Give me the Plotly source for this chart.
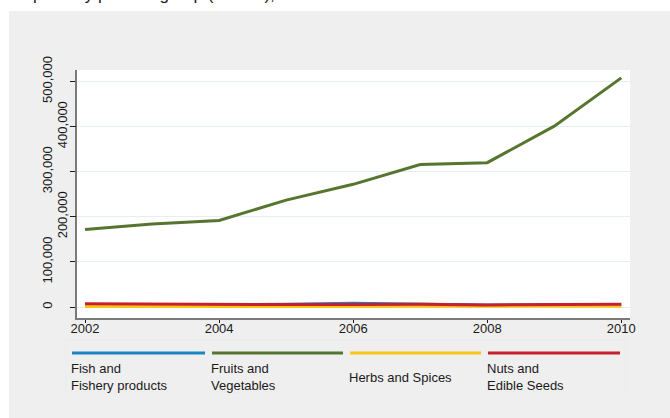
import plotly.graph_objects as go

years = [2002, 2003, 2004, 2005, 2006, 2007, 2008, 2009, 2010]
fish = [4000, 4500, 4000, 6000, 8500, 6000, 4500, 5000, 5000]
fruits = [172000, 184000, 192000, 237000, 272000, 316000, 320000, 401000, 508000]
herbs = [1000, 1200, 1000, 1300, 1500, 1400, 1200, 1500, 1600]
nuts = [7000, 6500, 4500, 5500, 5500, 6000, 4500, 6000, 6000]

series_names = ["Fish and<br>Fishery products", "Fruits and<br>Vegetables",
                "Herbs and Spices", "Nuts and<br>Edible Seeds"]
series_vals = [fish, fruits, herbs, nuts]
colors = ["#1a85c0", "#56762f", "#f7c616", "#c8202f"]

y_ticks_outer = [0, 100000, 300000, 500000]   # labels in the outer column
y_ticks_inner = [200000, 400000]              # labels staggered closer to the axis
y_ticks = sorted(y_ticks_outer + y_ticks_inner)
x_ticks = [2002, 2004, 2006, 2008, 2010]

FONT = "Liberation Sans, Arial, Helvetica, sans-serif"

# plot area in pixels
W, H = 670, 418
L, R, T, B = 77, 630, 70, 318
pw, ph = R - L, B - T
Y_RANGE = [-24400, 525500]

def px(x):
    return (x - L) / pw

def py(y):
    return (B - y) / ph

fig = go.Figure()
for i, (name, vals, c) in enumerate(zip(series_names, series_vals, colors)):
    fig.add_trace(go.Scatter(x=years, y=vals, mode="lines", name=name,
                             yaxis="y2" if i == 3 else "y",
                             line=dict(color=c, width=3), showlegend=False))

shapes = [
    dict(type="rect", xref="paper", yref="paper", x0=px(9), x1=px(680),
         y0=py(430), y1=py(11), fillcolor="#efefef", line=dict(width=0), layer="below"),
    dict(type="rect", xref="paper", yref="paper", x0=0, x1=1, y0=0, y1=1,
         fillcolor="white", line=dict(width=0), layer="below"),
    dict(type="rect", xref="paper", yref="paper", x0=px(66), x1=px(626),
         y0=py(392), y1=py(340), fillcolor="rgba(0,0,0,0)",
         line=dict(color="#e9eded", width=1), layer="below"),
]
annotations = []
# legend (drawn manually to reproduce long key lines)
leg_x = [(72, 205), (212, 343), (350, 481), (488, 620)]
for (x0, x1), name, c in zip(leg_x, series_names, colors):
    shapes.append(dict(type="line", xref="paper", yref="paper", x0=px(x0), x1=px(x1),
                       y0=py(353), y1=py(353), line=dict(color=c, width=3)))
    annotations.append(dict(xref="paper", yref="paper", x=px(x0 - 3), y=py(377),
                            xanchor="left", yanchor="middle", align="left",
                            text=name, showarrow=False,
                            font=dict(family=FONT, size=13, color="#1a1a1a")))
# partially visible title (cut off at the top edge, as in the reference)
annotations.append(dict(xref="paper", yref="paper", x=px(12), y=py(-6),
                        xanchor="left", yanchor="middle",
                        text="Imports by product group (tonnes), 2002–2010",
                        showarrow=False, font=dict(family=FONT, size=17, color="#1a1a1a")))

fig.update_layout(
    width=W, height=H,
    margin=dict(l=L, r=W - R, t=T, b=H - B, pad=0),
    paper_bgcolor="white", plot_bgcolor="white",
    shapes=shapes, annotations=annotations,
    font=dict(family=FONT, size=13, color="#1a1a1a"),
    xaxis=dict(range=[2001.88, 2010.13], tickvals=x_ticks, ticks="outside", ticklen=3,
               tickcolor="#1a1a1a", showgrid=False, zeroline=False, automargin=False,
               ticklabelstandoff=-6,
               showline=True, linecolor="#7a7a7a", linewidth=2,
               tickfont=dict(size=13)),
    yaxis=dict(range=Y_RANGE, tickvals=y_ticks,
               ticktext=[f"{v:,}" if v in y_ticks_outer else "" for v in y_ticks],
               ticks="outside", ticklen=5, tickcolor="#1a1a1a", tickangle=-90,
               ticklabelstandoff=13, automargin=False,
               showgrid=True, gridcolor="#e6eeee", gridwidth=1, zeroline=False,
               showline=True, linecolor="#7a7a7a", linewidth=2,
               tickfont=dict(size=13)),
    yaxis2=dict(range=Y_RANGE, overlaying="y", side="left", tickvals=y_ticks_inner,
                ticktext=[f"{v:,}" for v in y_ticks_inner],
                ticks="outside", ticklen=5, tickcolor="#1a1a1a", tickangle=-90,
                ticklabelstandoff=-1, automargin=False,
                showgrid=False, zeroline=False, showline=False,
                tickfont=dict(size=13)),
)

fig.write_html("out.html", config={"displayModeBar": False},
               post_script="document.body.style.margin='0';")
